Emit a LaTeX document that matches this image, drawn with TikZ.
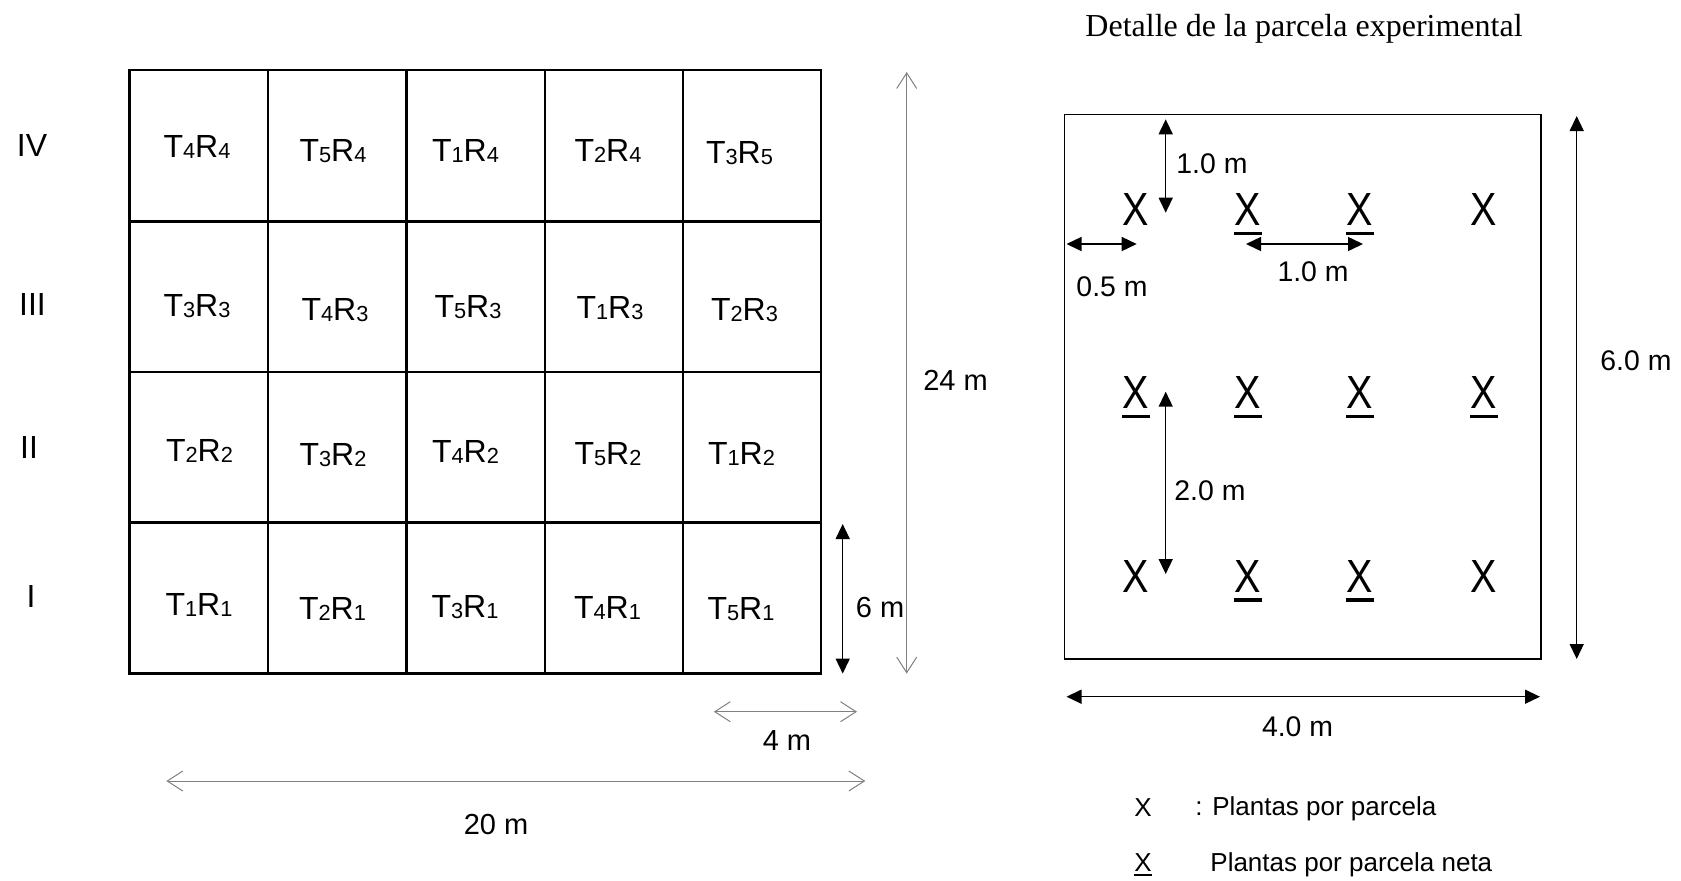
\documentclass[tikz,border=0pt]{standalone}
\usepackage{fontspec}
\usepackage{graphicx}
\setmainfont{Liberation Serif}
\newfontfamily\arial{Liberation Sans}
\usetikzlibrary{arrows.meta}
\definecolor{arrowgray}{HTML}{808080}
\newcommand\TRlab[2]{T\raisebox{-0.5pt}{\fontsize{10.9pt}{12pt}\selectfont #1}R\raisebox{-0.5pt}{\fontsize{10.9pt}{12pt}\selectfont #2}}
\newcommand\bigX{\scalebox{0.85}[1]{X}}
\tikzset{
  cell/.style={font=\arial\fontsize{16pt}{18pt}\selectfont, anchor=base, inner sep=0pt},
  dimL/.style={font=\arial\fontsize{14.5pt}{17pt}\selectfont, anchor=base, inner sep=0pt},
  dimR/.style={font=\arial\fontsize{14.2pt}{16pt}\selectfont, anchor=base, inner sep=0pt},
  bigx/.style={font=\arial\fontsize{23.25pt}{26pt}\selectfont, anchor=base, inner sep=0pt},
  legend/.style={font=\arial\fontsize{13pt}{15pt}\selectfont, anchor=base, inner sep=0pt},
  titlefont/.style={font=\fontsize{16pt}{19pt}\selectfont, anchor=base, inner sep=0pt},
  gridline/.style={line width=1.25pt},
  plotbox/.style={line width=0.6pt},
  filledarrow/.style={line width=0.75pt, {Triangle[length=7.5pt,width=7pt]}-{Triangle[length=7.5pt,width=7pt]}},
  openarrow/.style={line width=0.5pt, draw=arrowgray, {Straight Barb[length=7.8pt,width=10pt]}-{Straight Barb[length=7.8pt,width=10pt]}},
  ulbar/.style={line width=1.6pt},
  ulthin/.style={line width=0.75pt}
}
\begin{document}
\begin{tikzpicture}[x=0.5pt,y=-0.5pt]
\useasboundingbox (0,0) rectangle (1681,880);
% ---------- left grid ----------
\draw[gridline] (129.7,70) rectangle (821,673.5);
\foreach \xx in {268,406.5,545,683} \draw[gridline] (\xx,70) -- (\xx,673.5);
\foreach \yy in {221.5,372,522.5} \draw[gridline] (129.7,\yy) -- (821,\yy);
% row labels
\node[cell] (rIV) at (32,156.5) {IV};
\node[cell] (rIII) at (32.5,315.7) {III};
\node[cell] (rII) at (29,458.3) {II};
\node[cell] (rI) at (31,607.3) {I};
% cells row IV
\node[cell] (c41) at (197,157) {\TRlab44};
\node[cell] (c42) at (333,161) {\TRlab54};
\node[cell] (c43) at (465.5,161) {\TRlab14};
\node[cell] (c44) at (608,161.4) {\TRlab24};
\node[cell] (c45) at (739.5,163.8) {\TRlab35};
% row III
\node[cell] (c31) at (197,316) {\TRlab33};
\node[cell] (c32) at (335,320) {\TRlab43};
\node[cell] (c33) at (468,317.5) {\TRlab53};
\node[cell] (c34) at (610,318.6) {\TRlab13};
\node[cell] (c35) at (744.5,320) {\TRlab23};
% row II
\node[cell] (c21) at (199.5,461) {\TRlab22};
\node[cell] (c22) at (333,465) {\TRlab32};
\node[cell] (c23) at (465.5,462.7) {\TRlab42};
\node[cell] (c24) at (608,464) {\TRlab52};
\node[cell] (c25) at (741.5,464.3) {\TRlab12};
% row I
\node[cell] (c11) at (199,615) {\TRlab11};
\node[cell] (c12) at (332.5,619) {\TRlab21};
\node[cell] (c13) at (465,617.3) {\TRlab31};
\node[cell] (c14) at (607.5,618) {\TRlab41};
\node[cell] (c15) at (741,619) {\TRlab51};
% dimensions left
\coordinate (s6t) at (842.7,524);
\coordinate (s6b) at (842.7,673.6);
\draw[filledarrow] (s6t) -- (s6b);
\node[dimL, anchor=base west] (l6) at (855.5,617) {6 m};
\coordinate (s24t) at (906.7,72);
\coordinate (s24b) at (906.7,673.6);
\draw[openarrow] (s24t) -- (s24b);
\node[dimL] (l24) at (955.5,390.6) {24 m};
\coordinate (s4l) at (713.8,711.7);
\coordinate (s4r) at (857,711.7);
\draw[openarrow] (s4l) -- (s4r);
\node[dimL] (l4) at (787,750.7) {4 m};
\coordinate (s20l) at (166.3,781);
\coordinate (s20r) at (865.3,781);
\draw[openarrow] (s20l) -- (s20r);
\node[dimL] (l20) at (496,834) {20 m};
% ---------- right detail ----------
\node[titlefont] (title) at (1304,36) {Detalle de la parcela experimental};
\draw[plotbox] (1064.5,114.3) rectangle (1541,659);
% plants
\foreach \r/\yy in {1/225.5,2/408.7,3/592} {
  \foreach \c/\xx in {1/1136,2/1248,3/1360,4/1484} {
    \node[bigx] (x\r\c) at (\xx,\yy) {\bigX};
  }
}
\foreach \n in {x12,x13,x21,x22,x23,x24,x32,x33}
  \draw[ulbar] (\n.base) ++(-14,8) -- ++(28,0);
% dimension arrows inside
\coordinate (v1t) at (1165.7,119.3);
\coordinate (v1b) at (1165.7,212.7);
\draw[filledarrow] (v1t) -- (v1b);
\node[dimR, anchor=base west] (lv1) at (1176,173) {1.0 m};
\coordinate (h1l) at (1066.5,244);
\coordinate (h1r) at (1136.7,244);
\draw[filledarrow] (h1l) -- (h1r);
\node[dimR] (lh1) at (1112,296.7) {0.5 m};
\coordinate (h2l) at (1246,244);
\coordinate (h2r) at (1363,244);
\draw[filledarrow] (h2l) -- (h2r);
\node[dimR] (lh2) at (1313,281.7) {1.0 m};
\coordinate (v2t) at (1165.7,391.7);
\coordinate (v2b) at (1165.7,574);
\draw[filledarrow] (v2t) -- (v2b);
\node[dimR, anchor=base west] (lv2) at (1174,500) {2.0 m};
\coordinate (w4l) at (1066.5,696.7);
\coordinate (w4r) at (1540,696.7);
\draw[filledarrow] (w4l) -- (w4r);
\node[dimR] (lw4) at (1297.5,736) {4.0 m};
\coordinate (h6t) at (1576.7,116);
\coordinate (h6b) at (1576.7,659);
\draw[filledarrow] (h6t) -- (h6b);
\node[dimR, anchor=base west] (lh6) at (1600,370) {6.0 m};
% legend
\node[legend] (lgx1) at (1143,816.7) {X};
\node[legend, anchor=base west] (lgt1) at (1195,815.5) {: Plantas por parcela};
\node[legend] (lgx2) at (1143,871.5) {X};
\draw[ulthin] (lgx2.base) ++(-9,3.5) -- ++(18,0);
\node[legend, anchor=base west] (lgt2) at (1210,871) {Plantas por parcela neta};
\end{tikzpicture}
\end{document}
